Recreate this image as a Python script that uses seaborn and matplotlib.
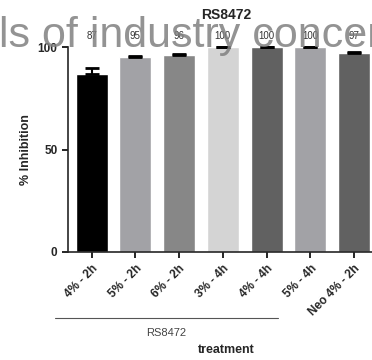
import matplotlib
matplotlib.use("Agg")
import matplotlib.pyplot as plt
import seaborn as sns
import pandas as pd
import numpy as np

categories = ["4% - 2h", "5% - 2h", "6% - 2h", "3% - 4h", "4% - 4h", "5% - 4h", "Neo 4% - 2h"]
values = [87, 95, 96, 100, 100, 100, 97]
errors = [3.0, 0.6, 0.7, 0.0, 0.0, 0.0, 0.7]
value_labels = ["87", "95", "96", "100", "100", "100", "97"]
colors = ["#000000", "#a2a2a6", "#878787", "#d4d4d4", "#616161", "#a2a2a6", "#616161"]
yticks = [0, 50, 100]

sns.set_style("ticks")
plt.rcParams["font.family"] = ["Liberation Sans", "DejaVu Sans"]

fig = plt.figure(figsize=(3.72, 3.60), dpi=100)
ax = fig.add_axes([68/372, 108/360, (372-68)/372, (252-47)/360])

df = pd.DataFrame({"treatment": categories, "value": values})
sns.barplot(data=df, x="treatment", y="value", hue="treatment", palette=colors,
            legend=False, width=0.73, ax=ax, saturation=1, errorbar=None)
xs = np.arange(len(categories))
ax.errorbar(xs, values, yerr=[np.zeros(len(errors)), errors], fmt="none",
            ecolor="black", elinewidth=1.5, capsize=5, capthick=2, clip_on=False)

ax.set_xlim(-0.54, 6.41)
ax.set_ylim(0, 100)
ax.set_yticks(yticks)
ax.set_yticklabels([str(t) for t in yticks], fontweight="bold", fontsize=8.5)
ax.set_xticks(xs)
ax.set_xticklabels(categories, rotation=45, ha="right", rotation_mode="anchor",
                   fontweight="bold", fontsize=8.5)
ax.tick_params(axis="both", length=4, width=1.2, color="black")
for s in ["left", "bottom"]:
    ax.spines[s].set_linewidth(1.2)
sns.despine(ax=ax, top=True, right=True)
ax.set_xlabel("")
ax.set_ylabel("% Inhibition", fontweight="bold", fontsize=9, labelpad=4)

for x, v, lab in zip(xs, values, value_labels):
    ax.text(x, 103, lab, ha="center", va="bottom", fontsize=7, color="#333333",
            clip_on=False)

fig.text(226/372, 1 - 15/360, "RS8472", ha="center", va="center",
         fontweight="bold", fontsize=10)
fig.add_artist(plt.Line2D([55/372, 278/372], [1 - 318/360, 1 - 318/360],
                          color="#555555", lw=0.8))
fig.text(166/372, 1 - 333/360, "RS8472", ha="center", va="center",
         fontsize=8, color="#444444")
fig.text(226/372, 1 - 350/360, "treatment", ha="center", va="center",
         fontweight="bold", fontsize=9)

fig.text(-1/372, 1 - 47/360, "ls of industry concern", ha="left", va="baseline",
         fontsize=31, color="#808080", alpha=0.85)

fig.savefig("out.png", dpi=100)
